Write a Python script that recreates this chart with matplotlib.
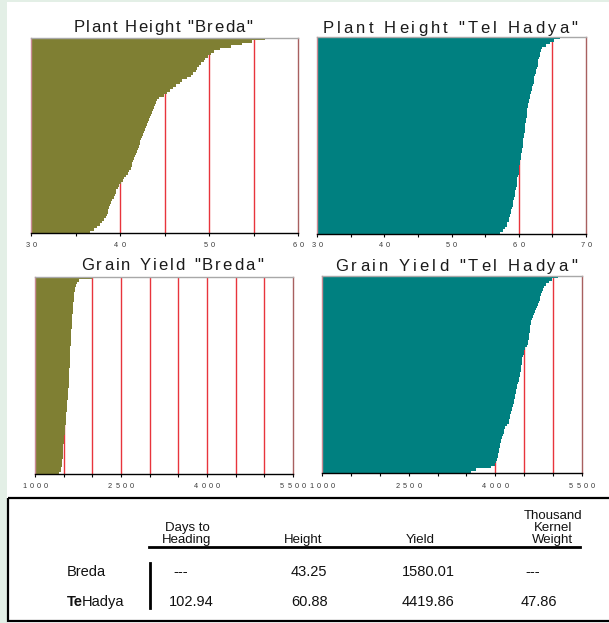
import numpy as np
import matplotlib
matplotlib.use("Agg")
import matplotlib.pyplot as plt
from matplotlib.patches import Rectangle
from matplotlib.font_manager import FontProperties
from matplotlib.transforms import IdentityTransform

W, H = 609, 623

# sorted genotype values, one bar each (bottom -> top)
height_breda = [36.6, 37.1, 37.4, 37.7, 38.0, 38.2, 38.4, 38.5, 38.6, 38.7,
                38.8, 38.9, 39.0, 39.1, 39.3, 39.4, 39.5, 39.6, 39.8, 39.9,
                40.1, 40.3, 40.5, 40.7, 40.9, 41.0, 41.2, 41.3, 41.4, 41.5,
                41.6, 41.7, 41.8, 41.9, 42.0, 42.1, 42.2, 42.3, 42.4, 42.5,
                42.6, 42.7, 42.8, 42.9, 43.0, 43.1, 43.3, 43.4, 43.5, 43.6,
                43.7, 43.8, 43.9, 44.0, 44.2, 44.4, 44.9, 45.3, 45.6, 45.9,
                46.3, 46.7, 47.0, 47.5, 48.0, 48.2, 48.5, 48.7, 48.9, 49.1,
                49.4, 49.6, 49.9, 50.2, 50.6, 51.2, 52.5, 53.7, 54.8, 56.3]
height_telhadya = [57.2, 57.6, 58.0, 58.2, 58.3, 58.5, 58.6, 58.7, 58.8, 58.9,
                   59.0, 59.1, 59.1, 59.2, 59.3, 59.4, 59.5, 59.5, 59.6, 59.7,
                   59.7, 59.8, 59.8, 59.9, 60.0, 60.0, 60.1, 60.1, 60.2, 60.2,
                   60.3, 60.3, 60.4, 60.5, 60.5, 60.6, 60.6, 60.7, 60.7, 60.8,
                   60.8, 60.9, 60.9, 61.0, 61.0, 61.1, 61.1, 61.2, 61.2, 61.3,
                   61.3, 61.4, 61.4, 61.5, 61.5, 61.6, 61.7, 61.8, 61.9, 62.0,
                   62.1, 62.2, 62.3, 62.3, 62.4, 62.5, 62.6, 62.7, 62.8, 62.8,
                   62.9, 63.0, 63.1, 63.2, 63.3, 63.5, 64.0, 64.6, 65.2, 66.2]
yield_breda = [1425, 1445, 1460, 1468, 1472, 1477, 1481, 1484, 1487, 1490,
               1493, 1496, 1500, 1504, 1508, 1512, 1516, 1520, 1525, 1529,
               1532, 1535, 1538, 1542, 1546, 1550, 1554, 1558, 1561, 1564,
               1567, 1571, 1575, 1578, 1582, 1585, 1588, 1590, 1592, 1594,
               1596, 1598, 1600, 1602, 1604, 1606, 1608, 1610, 1612, 1614,
               1616, 1618, 1620, 1622, 1624, 1626, 1628, 1631, 1634, 1637,
               1640, 1643, 1646, 1650, 1653, 1656, 1659, 1662, 1665, 1668,
               1672, 1676, 1680, 1686, 1692, 1700, 1720, 1740, 1770, 1990]
yield_telhadya = [3580, 3670, 3930, 3990, 4010, 4025, 4040, 4050, 4060, 4068,
                  4075, 4080, 4090, 4100, 4110, 4130, 4145, 4158, 4175, 4200,
                  4229, 4240, 4250, 4262, 4276, 4285, 4295, 4305, 4318, 4330,
                  4336, 4342, 4350, 4358, 4368, 4380, 4392, 4402, 4410, 4420,
                  4428, 4436, 4444, 4449, 4456, 4462, 4470, 4478, 4490, 4500,
                  4510, 4540, 4560, 4570, 4582, 4584, 4587, 4592, 4598, 4605,
                  4615, 4625, 4635, 4648, 4665, 4690, 4712, 4725, 4740, 4755,
                  4767, 4780, 4795, 4810, 4830, 4850, 4880, 4930, 4980, 5080]

breda_height_labels = [30, 40, 50, 60]
telhadya_height_labels = [30, 40, 50, 60, 70]
yield_labels = [1000, 2500, 4000, 5500]

table_cols = ["Days to\nHeading", "Height", "Yield", "Thousand\nKernel\nWeight"]
table_rows = ["Breda", "TeHadya"]
table_vals = [["---", "43.25", "1580.01", "---"],
              ["102.94", "60.88", "4419.86", "47.86"]]

OLIVE = "#7f7f33"
TEAL = "#008080"
RED = "#e8343c"

fig = plt.figure(figsize=(W / 100, H / 100), dpi=100)
fig.patch.set_facecolor("#e3efe6")
renderer = fig.canvas.get_renderer()

bg = fig.add_axes([0, 0, 1, 1])
bg.set_xlim(0, W)
bg.set_ylim(H, 0)
bg.axis("off")
bg.add_patch(Rectangle((7, 2), W, H, facecolor="white", edgecolor="none"))


def text_width(s, fp):
    # advance width in pixels (pipes keep spaces from collapsing)
    w1 = renderer.get_text_width_height_descent("|" + s + "|", fp, ismath=False)[0]
    w0 = renderer.get_text_width_height_descent("||", fp, ismath=False)[0]
    return w1 - w0


def spaced_text(xc, y, s, fp, gap, color="#1a1a1a"):
    widths = [text_width(c, fp) for c in s]
    x = xc - (sum(widths) + gap * (len(s) - 1)) / 2
    for c, w in zip(s, widths):
        fig.text(x, H - y, c, fontproperties=fp, color=color,
                 transform=IdentityTransform(), ha="left", va="baseline")
        x += w + gap


title_fp = FontProperties(family="Liberation Sans", size=12)
tick_fp = FontProperties(family="Liberation Sans", size=5.3)


def panel(box, values, color, lim, step, labels, label_y, title, title_xy, gap):
    l, t, r, b = box
    ax = fig.add_axes([l / W, 1 - b / H, (r - l) / W, (b - t) / H])
    y = np.arange(len(values))
    ax.barh(y, values, height=1.0, color=color, linewidth=0,
            antialiased=False, zorder=3)
    ax.set_xlim(*lim)
    ax.set_ylim(-0.5, len(values) - 0.5)
    ticks = np.arange(lim[0], lim[1] + step / 2, step)
    for g in ticks[1:-1]:
        ax.axvline(g, color=RED, lw=1.0, zorder=2)
    ax.set_xticks(ticks)
    ax.set_xticklabels([])
    ax.set_yticks([])
    ax.tick_params(axis="x", direction="out", length=2.5, width=0.8)
    ax.spines["top"].set_color("#a8a8a8")
    ax.spines["left"].set_color("#c98a94")
    ax.spines["right"].set_color("#a86060")
    ax.spines["bottom"].set_color("black")
    for sp in ax.spines.values():
        sp.set_linewidth(1.0)
        sp.set_zorder(4)
    for v in labels:
        px = ax.transData.transform((v, 0))[0]
        spaced_text(px, label_y, str(v), tick_fp, 3.2, color="#3a3a3a")
    spaced_text(title_xy[0], title_xy[1], title, title_fp, gap)
    return ax


panel((31, 38, 298, 233), height_breda, OLIVE, (30, 60), 5,
      breda_height_labels, 247, 'Plant Height "Breda"', (163, 32), 1.4)
panel((317, 37, 586, 234), height_telhadya, TEAL, (30, 70), 5,
      telhadya_height_labels, 247, 'Plant Height "Tel Hadya"', (450, 33), 3.1)
panel((35, 277, 293, 474), yield_breda, OLIVE, (1000, 5500), 500,
      yield_labels, 488, 'Grain Yield "Breda"', (172, 270), 2.1)
panel((322, 276, 582, 473), yield_telhadya, TEAL, (1000, 5500), 500,
      yield_labels, 488, 'Grain Yield "Tel Hadya"', (456, 271), 3.0)

# summary table
tab_fp = FontProperties(family="Liberation Sans", size=10.5)
head_fp = FontProperties(family="Liberation Sans", size=9.5)
bold_fp = FontProperties(family="Liberation Sans", size=10.5, weight="bold")
bg.add_patch(Rectangle((8, 498), 640, 123, fill=False, edgecolor="black", lw=1.6))
bg.plot([149, 580], [547, 547], color="black", lw=2)
bg.plot([150, 150], [563, 608], color="black", lw=2)

head_x = [187, 303, 420, 553]
head_base = 543
for hx, txt in zip(head_x, table_cols):
    lines = txt.split("\n")
    for k, line in enumerate(lines):
        yb = head_base - (len(lines) - 1 - k) * 12
        bg.text(hx, yb, line, fontproperties=head_fp, ha="center", va="baseline",
                color="#111111")

val_x = [169, 291, 402, 521]
row_y = [576, 606]
bg.text(67, row_y[0], table_rows[0], fontproperties=tab_fp, va="baseline", color="#111111")
te = bg.text(67, row_y[1], "Te", fontproperties=bold_fp, va="baseline", color="#111111")
te_end = te.get_window_extent(renderer).x1
bg.text(te_end - 1, row_y[1], "Hadya", fontproperties=tab_fp,
        va="baseline", color="#111111")
for ry, vals in zip(row_y, table_vals):
    for vx, v in zip(val_x, vals):
        bg.text(vx + (4 if v == "---" else 0), ry, v, fontproperties=tab_fp,
                va="baseline", color="#111111")

fig.savefig("out.png", dpi=100, facecolor=fig.get_facecolor())
